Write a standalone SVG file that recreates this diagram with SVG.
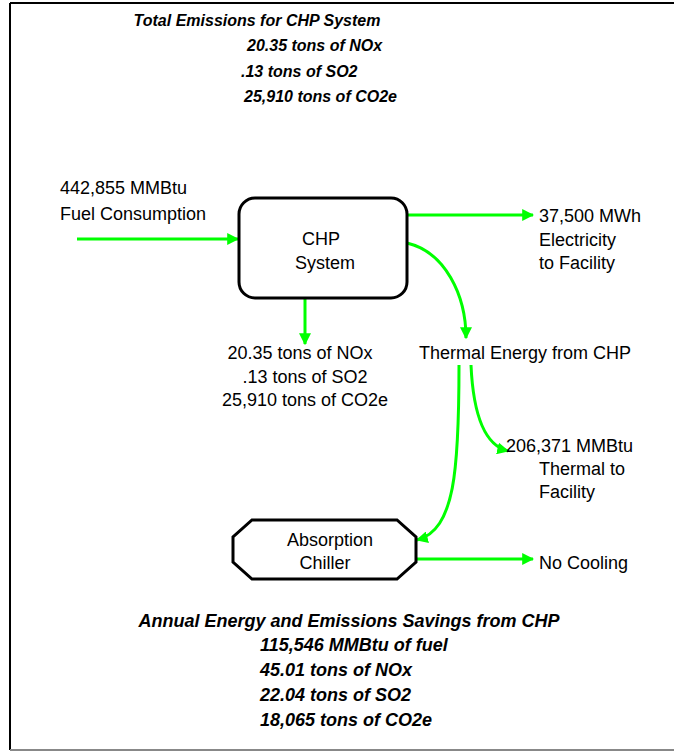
<svg xmlns="http://www.w3.org/2000/svg" width="674" height="753" viewBox="0 0 674 753">
<defs>
<marker id="ah" viewBox="0 0 10 10" refX="9" refY="5" markerWidth="4" markerHeight="4" orient="auto" markerUnits="strokeWidth">
<path d="M0,0 L10,5 L0,10 z" fill="#00ff00"/>
</marker>
<style>
text{font-family:"Liberation Sans",Arial,sans-serif;font-size:18px;fill:#000}
.h{font-weight:bold;font-style:italic;font-size:16px}
.b{font-weight:bold;font-style:italic;font-size:18px}
.c{stroke:#00ff00;stroke-width:3;fill:none;marker-end:url(#ah)}
.n{fill:#fff;stroke:#000;stroke-width:3}
</style>
</defs>
<rect width="674" height="753" fill="#fff"/>
<g id="frame">
<line x1="10" y1="3" x2="674" y2="3" stroke="#000" stroke-width="2"/>
<line x1="10" y1="3" x2="10" y2="750" stroke="#000" stroke-width="2"/>
<line x1="10" y1="750" x2="674" y2="750" stroke="#888" stroke-width="2"/>
</g>
<g id="top-summary">
<text class="h" x="257" y="26" text-anchor="middle">Total Emissions for CHP System</text>
<text class="h" x="247" y="51">20.35 tons of NOx</text>
<text class="h" x="241" y="77">.13 tons of SO2</text>
<text class="h" x="244" y="102">25,910 tons of CO2e</text>
</g>
<g id="connectors">
<path class="c" d="M77,239 L238,239"/>
<path class="c" d="M407,215 L533,215"/>
<path class="c" d="M407,243 C445,252 466,295 466,338"/>
<path class="c" d="M305,299 L305,344"/>
<path class="c" d="M459,365 C459,470 455,530 417,540"/>
<path class="c" d="M471,365 C473,410 483,445 508,451"/>
<path class="c" d="M416,559 L533,559"/>
</g>
<g id="fuel-label">
<text x="60" y="194">442,855 MMBtu</text>
<text x="60" y="220">Fuel Consumption</text>
</g>
<g id="chp">
<rect class="n" x="239" y="198" width="168" height="100" rx="16"/>
<text x="321" y="245" text-anchor="middle">CHP</text>
<text x="325" y="269" text-anchor="middle">System</text>
</g>
<g id="electricity">
<text x="539" y="222">37,500 MWh</text>
<text x="539" y="246">Electricity</text>
<text x="539" y="269">to Facility</text>
</g>
<g id="chp-emissions">
<text x="300" y="359" text-anchor="middle">20.35 tons of NOx</text>
<text x="305" y="383" text-anchor="middle">.13 tons of SO2</text>
<text x="305" y="406" text-anchor="middle">25,910 tons of CO2e</text>
</g>
<g id="thermal">
<text x="419" y="359">Thermal Energy from CHP</text>
</g>
<g id="thermal-facility">
<text x="506" y="452">206,371 MMBtu</text>
<text x="539" y="475">Thermal to</text>
<text x="539" y="498">Facility</text>
</g>
<g id="chiller">
<path class="n" d="M252,520 L397,520 L416,537 L416,562 L397,579 L252,579 L233,562 L233,537 z"/>
<text x="330" y="546" text-anchor="middle">Absorption</text>
<text x="325" y="569" text-anchor="middle">Chiller</text>
</g>
<g id="no-cooling">
<text x="539" y="569">No Cooling</text>
</g>
<g id="savings">
<text class="b" x="349" y="627" text-anchor="middle">Annual Energy and Emissions Savings from CHP</text>
<text class="b" x="260" y="651">115,546 MMBtu of fuel</text>
<text class="b" x="260" y="676">45.01 tons of NOx</text>
<text class="b" x="260" y="701">22.04 tons of SO2</text>
<text class="b" x="260" y="726">18,065 tons of CO2e</text>
</g>
</svg>
